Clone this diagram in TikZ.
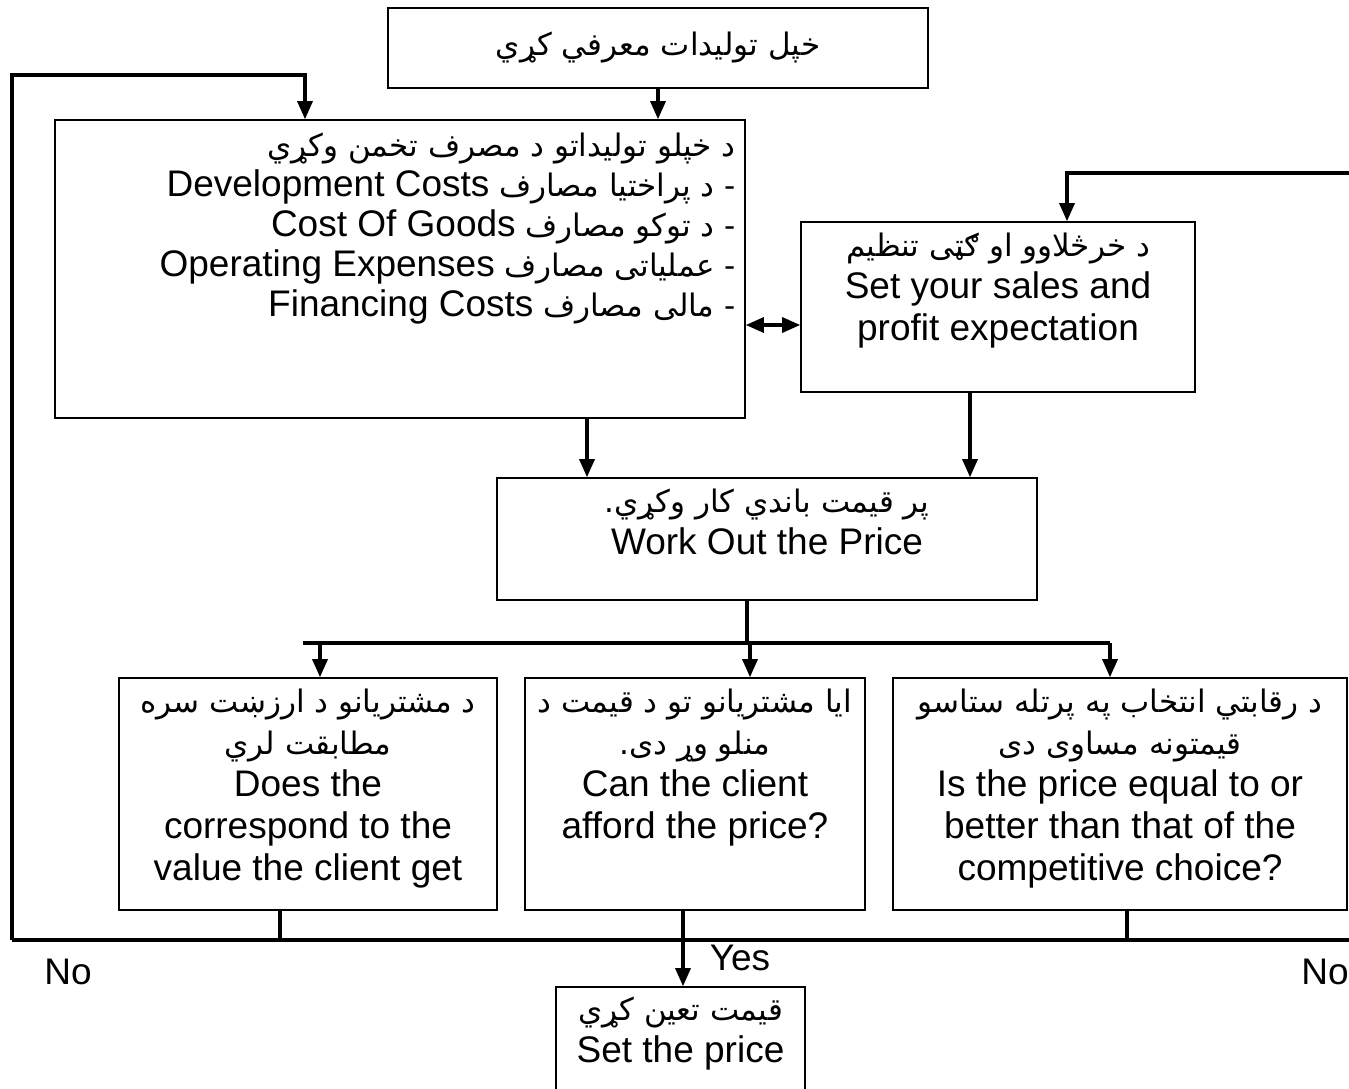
\documentclass[tikz,border=0pt]{standalone}
\usepackage{fontspec}
\setmainfont{Liberation Sans}
\newfontfamily\arabicfont[Script=Arabic]{DejaVu Sans}
\TeXXeTstate=1
\usetikzlibrary{arrows.meta}
\newcommand\ps[1]{{\arabicfont\fontsize{31}{42}\selectfont\beginR #1\endR}}
\newcommand\en[1]{\beginL{\normalfont\fontsize{37}{42}\selectfont #1}\endL}
\tikzset{
  box/.style={draw, line width=1.6pt, rectangle, inner sep=0pt},
  txt/.style={align=center, inner sep=0pt, font=\fontsize{37}{42}\selectfont},
  conn/.style={line width=3.2pt},
  arr/.style={conn, -{Triangle[width=15pt,length=18pt]}},
  dbl/.style={conn, {Triangle[width=15pt,length=18pt]}-{Triangle[width=15pt,length=18pt]}},
}
\begin{document}
\begin{tikzpicture}[x=1pt, y=-1pt]
\useasboundingbox (0,0) rectangle (1349,1088);

% boxes
\node[box, minimum width=540, minimum height=80] (intro) at (658,48) {};
\node[box, minimum width=690, minimum height=298] (costs) at (400,269) {};
\node[box, minimum width=394, minimum height=170] (goal) at (998,307) {};
\node[box, minimum width=540, minimum height=122] (price) at (767,539) {};
\node[box, minimum width=378, minimum height=232] (value) at (308,794) {};
\node[box, minimum width=340, minimum height=232] (afford) at (695,794) {};
\node[box, minimum width=454, minimum height=232] (compet) at (1120,794) {};
\node[box, minimum width=249, minimum height=106] (setp) at (680.5,1040) {};

% texts
\node[txt] (introtext) at (intro.center) {\ps{خپل تولیدات معرفي کړي}};
\node[txt, align=right, anchor=north east, font=\fontsize{37}{40}\selectfont] (coststext)
  at ([xshift=-10pt,yshift=-14pt]costs.north east)
  {\ps{د خپلو تولیداتو د مصرف تخمن وکړي}\\
   \ps{- د پراختیا مصارف \en{Development Costs}}\\
   \ps{- د توکو مصارف \en{Cost Of Goods}}\\
   \ps{- عملیاتی مصارف \en{Operating Expenses}}\\
   \ps{- مالی مصارف \en{Financing Costs}}};
\node[txt, anchor=north] (goaltext) at ([yshift=-12pt]goal.north)
  {\ps{د خرڅلاوو او ګټی تنظیم}\\ Set your sales and\\ profit expectation};
\node[txt, anchor=north] (pricetext) at ([yshift=-12pt]price.north)
  {\ps{پر قیمت باندي کار وکړي.}\\ Work Out the Price};
\node[txt, anchor=north] (valuetext) at ([yshift=-12pt]value.north)
  {\ps{د مشتریانو د ارزښت سره}\\ \ps{مطابقت لري}\\ Does the\\ correspond to the\\ value the client get};
\node[txt, anchor=north] (affordtext) at ([yshift=-12pt]afford.north)
  {\ps{ایا مشتریانو تو د قیمت د}\\ \ps{منلو وړ دی.}\\ Can the client\\ afford the price?};
\node[txt, anchor=north] (compettext) at ([yshift=-12pt]compet.north)
  {\ps{د رقابتي انتخاب په پرتله ستاسو}\\ \ps{قیمتونه مساوی دی}\\ Is the price equal to or\\ better than that of the\\ competitive choice?};
\node[txt, anchor=north] (setptext) at ([yshift=-11pt]setp.north)
  {\ps{قیمت تعین کړي}\\ Set the price};

% labels
\node[txt] (nol) at (68,972) {No};
\node[txt] (nor) at (1325,972) {No};
\node[txt] (yes) at (740,958) {Yes};

% connector points
\coordinate (busL) at (12,940);
\coordinate (busR) at (1349,940);
\coordinate (loopL) at (12,75);
\coordinate (loopR) at (1349,173);
\coordinate (fork) at (747,643);
\coordinate (forkL) at (303,643);
\coordinate (forkR) at (1110,643);

% connectors
\draw[arr] (intro.south) -- (intro.south |- costs.north);
\draw[arr] (busL) -- (loopL) -| ([xshift=-95pt]costs.north);
\draw[arr] (loopR) -| ([xshift=69pt]goal.north);
\draw[dbl] ([yshift=-56pt]costs.east) -- ([yshift=-56pt]costs.east -| goal.west);
\draw[arr] ([xshift=187pt]costs.south) -- ([xshift=187pt]costs.south |- price.north);
\draw[arr] ([xshift=-28pt]goal.south) -- ([xshift=-28pt]goal.south |- price.north);
\draw[conn] ([xshift=-20pt]price.south) -- (fork);
\draw[conn] (forkL) -- (forkR);
\draw[arr] ([xshift=12pt]value.north |- fork) -- ([xshift=12pt]value.north);
\draw[arr] ([xshift=55pt]afford.north |- fork) -- ([xshift=55pt]afford.north);
\draw[arr] (forkR) -- (forkR |- compet.north);
\draw[conn] (busL) -- (busR);
\draw[conn] ([xshift=-28pt]value.south) -- ([xshift=-28pt]value.south |- busL);
\draw[arr] ([xshift=-12pt]afford.south) -- ([xshift=-12pt]afford.south |- setp.north);
\draw[conn] ([xshift=7pt]compet.south) -- ([xshift=7pt]compet.south |- busL);
\end{tikzpicture}
\end{document}
